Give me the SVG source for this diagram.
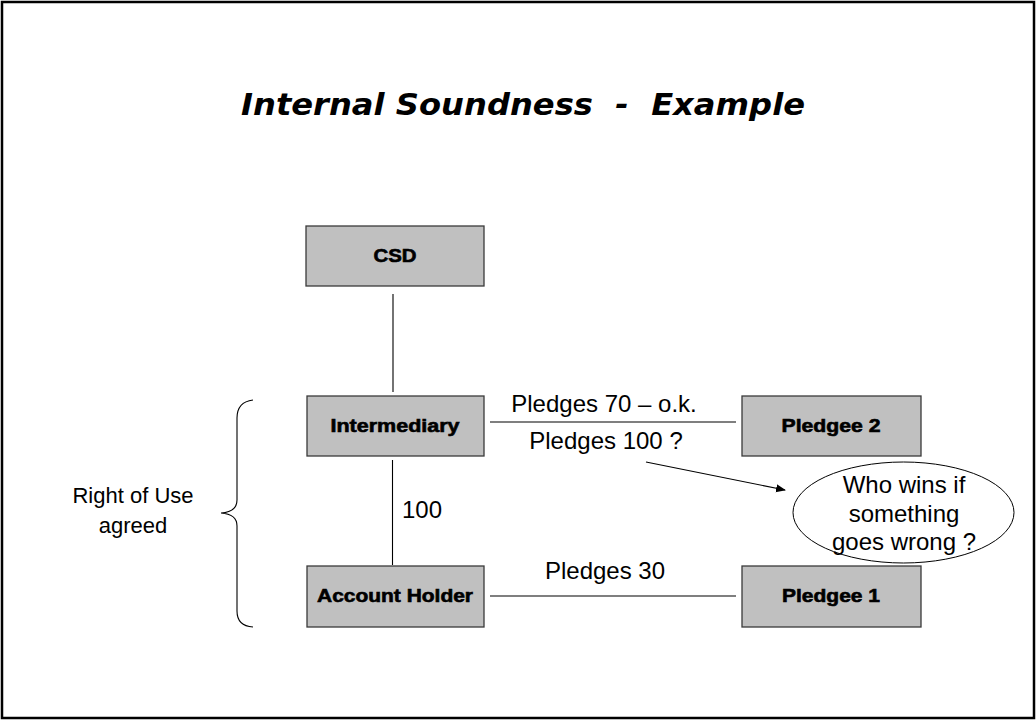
<svg xmlns="http://www.w3.org/2000/svg" width="1036" height="720" viewBox="0 0 1036 720">
<defs>
<style>
.box{fill:#c0c0c0;stroke:#3a3a3a;stroke-width:1.3}
.lbl{font-family:"Liberation Sans",Arial,sans-serif;font-weight:bold;font-size:18px;fill:#000;stroke:#000;stroke-width:0.6;text-anchor:middle}
.txt{font-family:"Liberation Sans",Arial,sans-serif;font-size:24px;fill:#000}
.ln{stroke:#000;stroke-width:1.1;fill:none}
</style>
<marker id="ah" viewBox="0 0 10 10" refX="9" refY="5" markerWidth="10" markerHeight="10" markerUnits="userSpaceOnUse" orient="auto">
<path d="M0,1 L10,5 L0,9 z" fill="#000"/>
</marker>
</defs>
<rect x="2" y="2" width="1032" height="716" fill="#fff" stroke="#000" stroke-width="2.5"/>
<text x="523" y="115" text-anchor="middle" xml:space="preserve" textLength="564" lengthAdjust="spacingAndGlyphs" style="font-family:'DejaVu Sans',Verdana,sans-serif;font-weight:bold;font-style:italic;font-size:30px">Internal Soundness  -  Example</text>
<g id="connectors">
<line class="ln" x1="393" y1="294" x2="393" y2="392"/>
<line class="ln" x1="392.5" y1="460" x2="392.5" y2="565"/>
<line class="ln" x1="490" y1="422" x2="736" y2="422"/>
<line class="ln" x1="490" y1="596" x2="736" y2="596"/>
<line class="ln" x1="646" y1="462" x2="785" y2="490" marker-end="url(#ah)"/>
<path class="ln" d="M253,400 Q237,402 237,418 L237,500 Q237,512 221,513 Q237,514 237,526 L237,611 Q237,626 253,627"/>
<text class="txt" x="604" y="412" text-anchor="middle">Pledges 70 – o.k.</text>
<text class="txt" x="606" y="449" text-anchor="middle">Pledges 100 ?</text>
<text class="txt" x="605" y="579" text-anchor="middle">Pledges 30</text>
<text class="txt" x="402" y="518">100</text>
</g>
<g id="csd"><rect class="box" x="306" y="226" width="178" height="60"/><text class="lbl" x="395" y="262" textLength="43" lengthAdjust="spacingAndGlyphs">CSD</text></g>
<g id="intermediary"><rect class="box" x="307" y="396" width="177" height="60"/><text class="lbl" x="395" y="432" textLength="129" lengthAdjust="spacingAndGlyphs">Intermediary</text></g>
<g id="account-holder"><rect class="box" x="307" y="566" width="177" height="61"/><text class="lbl" x="395" y="602" textLength="156" lengthAdjust="spacingAndGlyphs">Account Holder</text></g>
<g id="pledgee2"><rect class="box" x="742" y="396" width="179" height="60"/><text class="lbl" x="831" y="432" textLength="99" lengthAdjust="spacingAndGlyphs">Pledgee 2</text></g>
<g id="pledgee1"><rect class="box" x="742" y="566" width="179" height="61"/><text class="lbl" x="831" y="602" textLength="98" lengthAdjust="spacingAndGlyphs">Pledgee 1</text></g>
<g id="question">
<ellipse cx="903.5" cy="512.5" rx="110.5" ry="50.5" fill="#fff" stroke="#000" stroke-width="1"/>
<text class="txt" x="904" y="493" text-anchor="middle">Who wins if</text>
<text class="txt" x="904" y="522" text-anchor="middle">something</text>
<text class="txt" x="904" y="550" text-anchor="middle">goes wrong ?</text>
</g>
<g id="right-of-use">
<text class="txt" x="133" y="503" text-anchor="middle" style="font-size:22px">Right of Use</text>
<text class="txt" x="133" y="533" text-anchor="middle" style="font-size:22px">agreed</text>
</g>
</svg>
